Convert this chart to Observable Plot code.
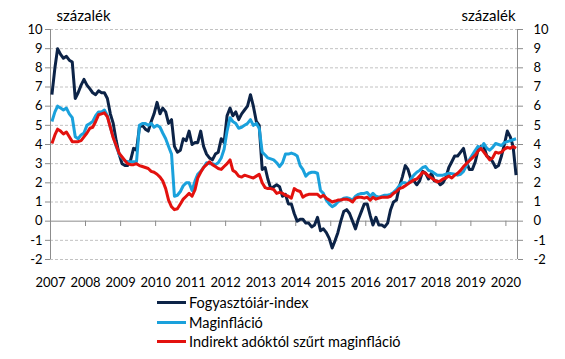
<!DOCTYPE html>
<html><head><meta charset="utf-8">
<script src="https://cdn.jsdelivr.net/npm/d3@7"></script>
<script src="https://cdn.jsdelivr.net/npm/@observablehq/plot@0.6"></script>
<style>
body{margin:0;background:#fff;font-family:Lato,sans-serif;color:#000;}
#wrap{position:relative;width:565px;height:359px;overflow:hidden;}
#legend{position:absolute;left:157px;top:293px;font-size:14.5px;line-height:19.5px;}
.row{display:flex;align-items:center;white-space:nowrap;}
.sw{width:29px;height:3px;margin-right:3px;}
</style></head><body>
<div id="wrap"><div id="chart"></div><div id="legend"></div></div>
<script>
// Monthly data, Jan 2007 – Apr 2020
const startMonth = "2007-01";
const endMonth = "2020-05"; // exclusive
const seriesNames = ["Fogyasztóiár-index", "Maginfláció", "Indirekt adóktól szűrt maginfláció"];
const seriesColors = ["#0c2347", "#1aa1dc", "#e3110e"];
const yTicks = [-2, -1, 0, 1, 2, 3, 4, 5, 6, 7, 8, 9, 10];
const yearLabels = [2007, 2008, 2009, 2010, 2011, 2012, 2013, 2014, 2015, 2016, 2017, 2018, 2019, 2020];
const unitLabel = "százalék";

const cpi = [
  6.6, 8.0, 9.0, 8.7, 8.5, 8.6, 8.4, 8.3, 6.4, 6.7, 7.1, 7.4,
  7.1, 6.9, 6.7, 6.6, 6.8, 6.7, 6.7, 6.4, 5.6, 5.1, 4.2, 3.5,
  3.0, 2.9, 2.9, 3.2, 3.8, 3.7, 4.9, 5.0, 4.8, 4.7, 5.2, 5.6,
  6.2, 5.6, 5.9, 5.7, 5.1, 5.3, 3.9, 3.6, 3.7, 4.3, 4.2, 4.7,
  4.0, 4.1, 4.1, 4.7, 3.9, 3.5, 3.3, 3.2, 3.5, 3.6, 4.3, 4.1,
  5.5, 5.9, 5.5, 5.7, 5.3, 5.6, 5.8, 6.0, 6.6, 6.0, 5.2, 5.0,
  2.7, 2.8, 2.2, 1.7, 1.8, 1.9, 1.8, 1.3, 1.4, 0.9, 0.9, 0.4,
  0.0, 0.1, 0.1, -0.1, -0.1, -0.3, -0.2, 0.2, -0.5, -0.4, -0.6, -0.9,
  -1.4, -1.0, -0.6, 0.0, 0.5, 0.6, 0.4, 0.0, -0.4, 0.1, 0.5, 0.9,
  0.9, 0.3, -0.2, 0.2, -0.2, -0.2, -0.3, -0.1, 0.6, 1.0, 1.1, 1.8,
  2.3, 2.9, 2.7, 2.2, 2.1, 1.9, 2.1, 2.6, 2.5, 2.2, 2.5, 2.1,
  2.1, 1.9, 2.0, 2.3, 2.8, 3.1, 3.4, 3.4, 3.6, 3.8, 3.1, 2.7,
  2.7, 3.1, 3.7, 3.9, 3.9, 3.4, 3.3, 3.1, 2.8, 2.9, 3.4, 4.0,
  4.7, 4.4, 3.9, 2.4
];
const core = [
  5.2, 5.7, 6.0, 5.9, 5.8, 5.9, 5.6, 5.4, 4.4, 4.3, 4.5, 4.6,
  5.0, 5.1, 5.2, 5.5, 5.7, 5.7, 5.8, 5.5, 4.9, 4.4, 3.9, 3.5,
  3.3, 3.15, 3.1, 3.1, 3.1, 3.1, 5.0, 5.1, 5.1, 5.0, 5.1, 4.9,
  5.0, 4.9, 4.6, 4.3, 3.9, 3.5, 1.3, 1.35, 1.55, 1.85, 2.0, 2.0,
  1.6, 2.1, 2.45, 2.6, 2.8, 3.05, 3.0, 3.0, 2.95, 3.05, 3.3, 3.75,
  4.7, 5.4, 5.2, 5.1, 4.85, 4.9, 5.0, 5.1, 5.3, 5.0, 5.1, 4.85,
  3.6, 3.45, 3.3, 3.25, 3.2, 3.05, 2.85, 3.05, 3.5, 3.5, 3.55, 3.5,
  3.4, 2.9, 2.7, 2.35, 2.5, 2.55, 2.55, 2.5, 1.6, 1.45, 1.1, 0.9,
  0.75, 0.85, 1.0, 1.1, 1.2, 1.22, 1.18, 1.1, 1.3, 1.4, 1.45, 1.45,
  1.5, 1.3, 1.45, 1.3, 1.25, 1.3, 1.35, 1.35, 1.4, 1.5, 1.65, 1.85,
  2.0, 2.0, 1.95, 2.2, 2.4, 2.55, 2.65, 2.8, 2.85, 2.65, 2.6, 2.5,
  2.4, 2.4, 2.4, 2.45, 2.5, 2.48, 2.45, 2.4, 2.45, 2.6, 2.9, 3.2,
  3.45, 3.7, 3.9, 3.8, 4.05, 3.8, 3.7, 3.85, 4.05, 4.0, 3.95, 4.1,
  4.15, 4.2, 4.25, 4.3
];
const coreTaxAdj = [
  4.05, 4.5, 4.8, 4.7, 4.55, 4.65, 4.4, 4.15, 4.15, 4.15, 4.2, 4.4,
  4.6, 4.85, 4.9, 5.2, 5.55, 5.6, 5.65, 5.45, 4.9, 4.35, 3.95, 3.55,
  3.35, 3.15, 3.0, 2.95, 2.95, 3.0, 2.9, 2.85, 2.8, 2.75, 2.6, 2.55,
  2.45, 2.3, 2.1, 1.7, 1.1, 0.75, 0.6, 0.65, 0.9, 1.15, 1.3, 1.45,
  1.3, 1.65, 2.25, 2.55, 2.8, 2.95, 3.1, 2.95, 2.85, 2.75, 2.7, 2.85,
  3.0, 3.2, 2.65, 2.55, 2.35, 2.3, 2.4, 2.35, 2.3, 2.25, 2.35, 2.45,
  2.0, 1.75, 1.7, 1.7, 1.65, 1.45, 1.5, 1.45, 1.35, 1.3, 1.2, 1.7,
  1.6, 1.55, 1.25, 1.35, 1.4, 1.4, 1.4, 1.4, 1.25, 1.35, 1.2, 1.1,
  1.0, 1.05, 1.1, 1.1, 1.15, 1.15, 1.1, 1.0, 1.2, 1.25, 1.25, 1.2,
  1.25, 1.1, 1.25, 1.15, 1.2, 1.25, 1.25, 1.25, 1.3, 1.45, 1.55, 1.7,
  1.75, 1.85, 1.95, 2.05, 2.15, 2.2, 2.35, 2.55, 2.5, 2.35, 2.25, 2.15,
  2.05, 2.1, 2.2, 2.25, 2.35, 2.25, 2.4, 2.5, 2.65, 2.85, 3.0, 3.15,
  3.3, 3.45, 3.65, 3.8, 3.6, 3.4, 3.2, 3.3, 3.6, 3.55, 3.6, 3.75,
  3.85, 3.8, 3.9, 3.8
];

const parseM = d3.utcParse("%Y-%m");
const x0 = parseM(startMonth), x1 = parseM(endMonth);
// each monthly value sits in the middle of its month slot
const months = d3.utcMonth.range(x0, x1).map(d => d3.utcDay.offset(d, 15));
const allSeries = [cpi, core, coreTaxAdj];
const rows = allSeries.flatMap((vals, i) => vals.map((v, j) => ({date: months[j], value: v, series: seriesNames[i]})));
const yearTicks = yearLabels.map(y => new Date(Date.UTC(y, 0, 1)));

const chart = Plot.plot({
  width: 565,
  height: 295,
  marginLeft: 50,
  marginRight: 48,
  marginTop: 29,
  marginBottom: 36,
  style: {fontFamily: "Lato, sans-serif", fontSize: "13px", color: "#000", background: "#fff"},
  x: {type: "utc", domain: [x0, x1], label: null},
  y: {domain: [-2, 10], label: null},
  color: {domain: seriesNames, range: seriesColors},
  marks: [
    Plot.ruleY(yTicks.filter(d => d !== 0), {stroke: "#c2c2c2", strokeWidth: 1, strokeDasharray: "3,2"}),
    Plot.ruleY([0], {stroke: "#8c8c8c", strokeWidth: 1}),
    Plot.ruleX(yearTicks, {x: d => d, y1: 0, y2: -2, insetBottom: 33, stroke: "#8c8c8c"}),
    Plot.ruleX([x0, x1], {stroke: "#8c8c8c", strokeWidth: 1}),
    Plot.axisY(yTicks, {anchor: "left", label: null, tickSize: 5, tickPadding: 3, tickFormat: d => String(d), fontSize: 13, stroke: "#8c8c8c", fill: "#000"}),
    Plot.axisY(yTicks, {anchor: "right", label: null, tickSize: 5, tickPadding: 11, tickFormat: d => String(d), fontSize: 13, stroke: "#8c8c8c", fill: "#000"}),
    Plot.axisX(yearTicks, {anchor: "bottom", label: null, tickSize: 0, tickPadding: 18, tickFormat: d3.utcFormat("%Y"), fontSize: 13, fill: "#000"}),
    Plot.line(rows, {x: "date", y: "value", z: "series", stroke: "series", strokeWidth: 3, strokeLinejoin: "round", strokeLinecap: "butt"}),
    Plot.text([unitLabel], {frameAnchor: "top-left", dx: 6, dy: -13, textAnchor: "start", lineAnchor: "middle", fontSize: 15, fill: "#000"}),
    Plot.text([unitLabel], {frameAnchor: "top-right", dx: -2, dy: -13, textAnchor: "end", lineAnchor: "middle", fontSize: 15, fill: "#000"})
  ]
});
document.getElementById("chart").appendChild(chart);

const legend = document.getElementById("legend");
seriesNames.forEach((name, i) => {
  const row = document.createElement("div");
  row.className = "row";
  const sw = document.createElement("span");
  sw.className = "sw";
  sw.style.background = seriesColors[i];
  const t = document.createElement("span");
  t.textContent = name;
  row.appendChild(sw); row.appendChild(t);
  legend.appendChild(row);
});
</script>
</body></html>
